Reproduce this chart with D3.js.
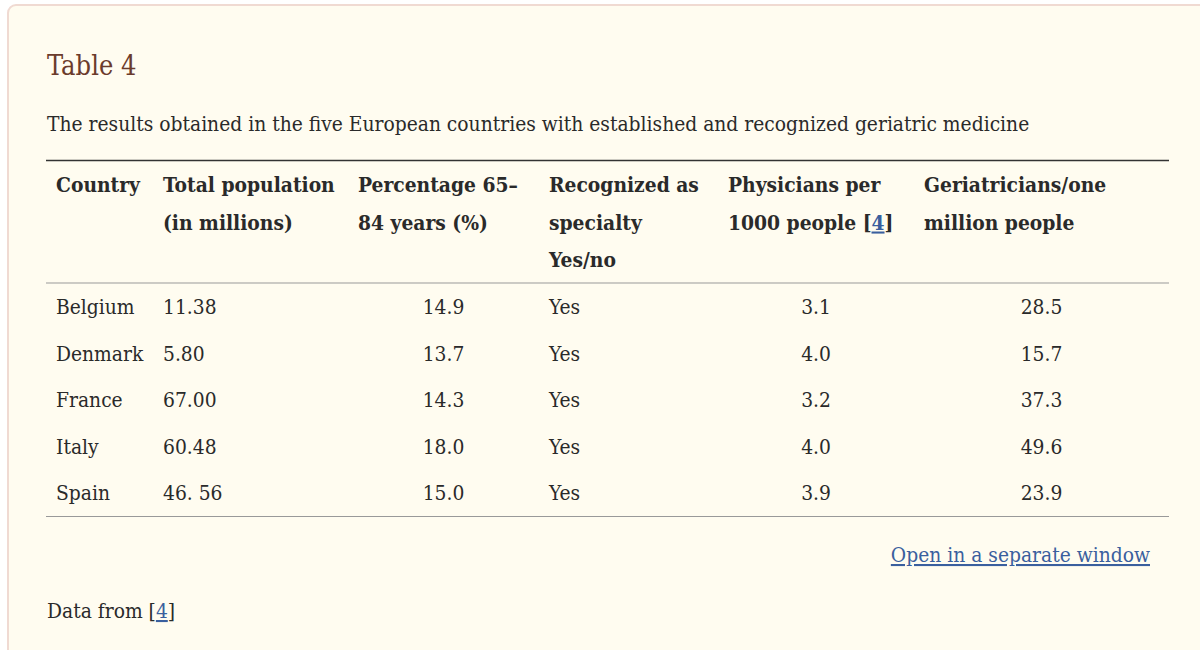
<!DOCTYPE html>
<html>
<head>
<meta charset="utf-8">
<script src="https://cdn.jsdelivr.net/npm/d3@7"></script>
<style>
  html, body { margin: 0; padding: 0; background: #fff; }
  svg { display: block; }
  text { font-family: "DejaVu Serif Condensed", "Liberation Serif", serif; }
</style>
</head>
<body>
<svg id="chart" width="1200" height="650"></svg>
<script>
// table content
var countries = ["Belgium", "Denmark", "France", "Italy", "Spain"];
var population = ["11.38", "5.80", "67.00", "60.48", "46. 56"];
var pct6584 = [14.9, 13.7, 14.3, 18.0, 15.0];
var recognized = ["Yes", "Yes", "Yes", "Yes", "Yes"];
var physicians = [3.1, 4.0, 3.2, 4.0, 3.9];
var geriatricians = [28.5, 15.7, 37.3, 49.6, 23.9];
var headers = [
    ["Country"],
    ["Total population", "(in millions)"],
    ["Percentage 65\u2013", "84 years (%)"],
    ["Recognized as", "specialty", "Yes/no"],
    ["Physicians per", "1000 people [4]"],
    ["Geriatricians/one", "million people"]
];

// layout
var colEdges = [46, 153, 348, 539, 718, 914, 1169];
var colAlign = ["start", "start", "middle", "start", "middle", "middle"];
var pad = 10;
var fontSize = 20.8;
var ink = "#2a2a2a";
var linkColor = "#3a5f9e";

var svg = d3.select("#chart");

// panel
svg.append("rect")
    .attr("x", 8).attr("y", 5)
    .attr("width", 1220).attr("height", 700)
    .attr("rx", 8)
    .attr("fill", "#fffcf0")
    .attr("stroke", "#f0dad2")
    .attr("stroke-width", 2);

svg.append("text")
    .attr("x", 47).attr("y", 75)
    .attr("font-size", 27)
    .attr("fill", "#6b3b2c")
    .text("Table 4");

svg.append("text")
    .attr("x", 47).attr("y", 131)
    .attr("font-size", fontSize)
    .attr("fill", ink)
    .text("The results obtained in the five European countries with established and recognized geriatric medicine");

function colX(i) {
    if (colAlign[i] === "middle") return (colEdges[i] + colEdges[i + 1]) / 2;
    return colEdges[i] + pad;
}

// rules
function appendRule(y, color, w) {
    svg.append("line")
        .attr("x1", colEdges[0]).attr("x2", colEdges[colEdges.length - 1])
        .attr("y1", y).attr("y2", y)
        .style("stroke", color)
        .style("stroke-width", w);
}
appendRule(160.5, "#333", 1.5);
appendRule(283, "#999", 1);
appendRule(516.5, "#999", 1);

// header
var headerY = d3.scaleLinear().domain([0, 1]).range([192, 229.5]);
headers.forEach(function (lines, i) {
    lines.forEach(function (ln, j) {
        var t = svg.append("text")
            .attr("x", colEdges[i] + pad)
            .attr("y", headerY(j))
            .attr("font-size", fontSize)
            .attr("font-weight", "bold")
            .attr("fill", ink);
        var m = ln.match(/^(.*\[)(4)(\])$/);
        if (m) {
            t.append("tspan").text(m[1]);
            t.append("tspan").attr("fill", linkColor).attr("text-decoration", "underline").text(m[2]);
            t.append("tspan").text(m[3]);
        } else {
            t.text(ln);
        }
    });
});

// body
var rowY = d3.scalePoint().domain(countries).range([314, 500]);
var columns = [
    countries,
    population,
    pct6584.map(function (d) { return d.toFixed(1); }),
    recognized,
    physicians.map(function (d) { return d.toFixed(1); }),
    geriatricians.map(function (d) { return d.toFixed(1); })
];
columns.forEach(function (vals, i) {
    svg.append("g").selectAll("text")
        .data(vals)
        .join("text")
        .attr("x", colX(i))
        .attr("y", function (d, k) { return rowY(countries[k]); })
        .attr("text-anchor", colAlign[i])
        .attr("font-size", fontSize)
        .attr("fill", ink)
        .text(function (d) { return d; });
});

// footer
svg.append("text")
    .attr("x", 1150).attr("y", 562)
    .attr("text-anchor", "end")
    .attr("font-size", fontSize)
    .attr("fill", linkColor)
    .attr("text-decoration", "underline")
    .text("Open in a separate window");

var foot = svg.append("text")
    .attr("x", 47).attr("y", 618)
    .attr("font-size", fontSize)
    .attr("fill", ink);
foot.append("tspan").text("Data from [");
foot.append("tspan").attr("fill", linkColor).attr("text-decoration", "underline").text("4");
foot.append("tspan").text("]");
</script>
</body>
</html>
